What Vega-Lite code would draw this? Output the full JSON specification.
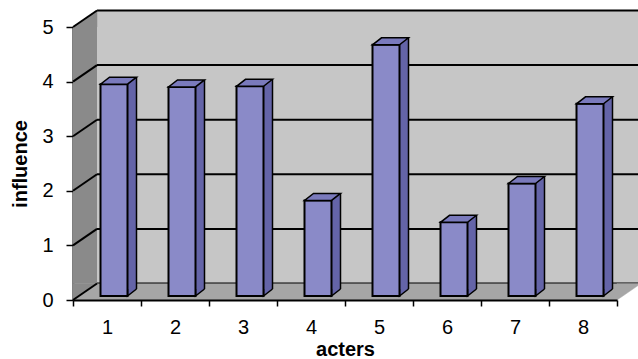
{
  "$schema": "https://vega.github.io/schema/vega-lite/v6.json",
  "width": 544,
  "height": 273,
  "autosize": {"type": "none"},
  "padding": {"left": 73, "top": 27, "right": 21, "bottom": 59},
  "background": "white",
  "config": {
    "view": {"stroke": null},
    "font": "Liberation Sans",
    "axis": {
      "labelFont": "Liberation Sans",
      "titleFont": "Liberation Sans",
      "labelColor": "#000000",
      "titleColor": "#000000",
      "domainColor": "#000000",
      "tickColor": "#000000",
      "labelFontSize": 20,
      "titleFontSize": 20,
      "titleFontWeight": "bold",
      "domainWidth": 2,
      "tickWidth": 1.5,
      "grid": false
    },
    "axisX": {"labelAngle": 0, "tickBand": "extent", "tickSize": 6, "labelPadding": 11, "titlePadding": 2},
    "axisY": {"tickSize": 7, "labelPadding": 13, "titlePadding": 11}
  },
  "datasets": {
    "scores": [
      {"acter": 1, "influence": 3.88},
      {"acter": 2, "influence": 3.83},
      {"acter": 3, "influence": 3.84},
      {"acter": 4, "influence": 1.75},
      {"acter": 5, "influence": 4.6},
      {"acter": 6, "influence": 1.35},
      {"acter": 7, "influence": 2.06},
      {"acter": 8, "influence": 3.52}
    ],
    "levels": [
      {"level": 0}, {"level": 1}, {"level": 2}, {"level": 3}, {"level": 4}, {"level": 5}
    ],
    "frame": [{"part": "wall"}]
  },
  "layer": [
    {
      "data": {"name": "frame"},
      "mark": {"type": "rect", "fill": "#c6c6c6", "xOffset": 24, "x2Offset": 24, "yOffset": -16.5, "y2Offset": -16.5},
      "encoding": {
        "x": {"datum": 1, "type": "ordinal", "bandPosition": 0, "title": "acters", "scale": {"type": "band", "paddingInner": 0, "paddingOuter": 0}},
        "x2": {"datum": 8, "bandPosition": 1},
        "y": {"datum": 0, "type": "quantitative", "title": "influence", "scale": {"domain": [0, 5], "nice": false}, "axis": {"values": [0, 1, 2, 3, 4, 5]}},
        "y2": {"datum": 5}
      }
    },
    {
      "data": {"name": "levels"},
      "mark": {"type": "rule", "stroke": "#000000", "strokeWidth": 2, "xOffset": 24, "x2Offset": 24, "yOffset": -16.5},
      "encoding": {
        "x": {"datum": 1, "type": "ordinal", "bandPosition": 0, "title": "acters", "scale": {"type": "band", "paddingInner": 0, "paddingOuter": 0}},
        "x2": {"datum": 8, "bandPosition": 1},
        "y": {"field": "level", "type": "quantitative", "title": "influence", "scale": {"domain": [0, 5], "nice": false}}
      }
    },
    {
      "data": {"name": "frame"},
      "mark": {"type": "rect", "fill": "#a6a6a6", "y2Offset": -16.5},
      "encoding": {
        "x": {"datum": 1, "type": "ordinal", "bandPosition": 0, "title": "acters", "scale": {"type": "band", "paddingInner": 0, "paddingOuter": 0}},
        "x2": {"datum": 8, "bandPosition": 1},
        "y": {"datum": 0, "type": "quantitative", "title": "influence", "scale": {"domain": [0, 5], "nice": false}},
        "y2": {"datum": 0}
      }
    },
    {
      "data": {"name": "frame"},
      "mark": {"type": "point", "filled": true, "opacity": 1, "size": 4, "shape": "M0,0 L0,-16.5 L24,-16.5 Z", "fill": "#a6a6a6", "stroke": "#a6a6a6", "strokeWidth": 0.5},
      "encoding": {
        "x": {"datum": 8, "type": "ordinal", "bandPosition": 1, "title": "acters", "scale": {"type": "band", "paddingInner": 0, "paddingOuter": 0}},
        "y": {"datum": 0, "type": "quantitative", "title": "influence", "scale": {"domain": [0, 5], "nice": false}}
      }
    },
    {
      "data": {"name": "frame"},
      "mark": {"type": "rect", "fill": "#8a8a8a", "x2Offset": 24, "y2Offset": -16.5},
      "encoding": {
        "x": {"datum": 1, "type": "ordinal", "bandPosition": 0, "title": "acters", "scale": {"type": "band", "paddingInner": 0, "paddingOuter": 0}},
        "x2": {"datum": 1, "bandPosition": 0},
        "y": {"datum": 5, "type": "quantitative", "title": "influence", "scale": {"domain": [0, 5], "nice": false}},
        "y2": {"datum": 0}
      }
    },
    {
      "data": {"name": "frame"},
      "mark": {"type": "point", "filled": true, "opacity": 1, "size": 4, "shape": "M0,0 L24,-16.5 L24,0 Z", "fill": "#8a8a8a", "stroke": "#8a8a8a", "strokeWidth": 0.5},
      "encoding": {
        "x": {"datum": 1, "type": "ordinal", "bandPosition": 0, "title": "acters", "scale": {"type": "band", "paddingInner": 0, "paddingOuter": 0}},
        "y": {"datum": 5, "type": "quantitative", "title": "influence", "scale": {"domain": [0, 5], "nice": false}}
      }
    },
    {
      "data": {"name": "frame"},
      "mark": {"type": "point", "filled": true, "opacity": 1, "size": 4, "shape": "M0,0 L0,-16.5 L24,-16.5 Z", "fill": "#8a8a8a", "stroke": "#8a8a8a", "strokeWidth": 0.5},
      "encoding": {
        "x": {"datum": 1, "type": "ordinal", "bandPosition": 0, "title": "acters", "scale": {"type": "band", "paddingInner": 0, "paddingOuter": 0}},
        "y": {"datum": 0, "type": "quantitative", "title": "influence", "scale": {"domain": [0, 5], "nice": false}}
      }
    },
    {
      "data": {"name": "levels"},
      "mark": {"type": "rule", "stroke": "#000000", "strokeWidth": 2, "x2Offset": 24, "y2Offset": -16.5},
      "encoding": {
        "x": {"datum": 1, "type": "ordinal", "bandPosition": 0, "title": "acters", "scale": {"type": "band", "paddingInner": 0, "paddingOuter": 0}},
        "x2": {"datum": 1, "bandPosition": 0},
        "y": {"field": "level", "type": "quantitative", "title": "influence", "scale": {"domain": [0, 5], "nice": false}},
        "y2": {"field": "level"}
      }
    },
    {
      "data": {"name": "scores"},
      "mark": {"type": "bar", "width": 27, "fill": "#6464a8", "xOffset": 16, "yOffset": -11, "y2Offset": -11},
      "encoding": {
        "x": {"field": "acter", "type": "ordinal", "title": "acters", "scale": {"type": "band", "paddingInner": 0, "paddingOuter": 0}},
        "y": {"field": "influence", "type": "quantitative", "title": "influence", "scale": {"domain": [0, 5], "nice": false}}
      }
    },
    {
      "data": {"name": "scores"},
      "mark": {"type": "point", "filled": true, "opacity": 1, "size": 4, "shape": "M0,-7 L0,0 L9,-7", "fill": "#6464a8", "stroke": "#000000", "strokeWidth": 1.5, "xOffset": 20.5, "yOffset": -4},
      "encoding": {
        "x": {"field": "acter", "type": "ordinal", "title": "acters", "scale": {"type": "band", "paddingInner": 0, "paddingOuter": 0}},
        "y": {"datum": 0, "type": "quantitative", "title": "influence", "scale": {"domain": [0, 5], "nice": false}}
      }
    },
    {
      "data": {"name": "scores"},
      "mark": {"type": "rule", "stroke": "#000000", "strokeWidth": 1.5, "xOffset": 29.5, "yOffset": -11, "y2Offset": -11},
      "encoding": {
        "x": {"field": "acter", "type": "ordinal", "title": "acters", "scale": {"type": "band", "paddingInner": 0, "paddingOuter": 0}},
        "y": {"field": "influence", "type": "quantitative", "title": "influence", "scale": {"domain": [0, 5], "nice": false}},
        "y2": {"datum": 0}
      }
    },
    {
      "data": {"name": "scores"},
      "mark": {"type": "bar", "width": 27, "fill": "#8a8ac8", "stroke": "#000000", "strokeWidth": 2, "xOffset": 7, "yOffset": -4, "y2Offset": -4},
      "encoding": {
        "x": {"field": "acter", "type": "ordinal", "title": "acters", "scale": {"type": "band", "paddingInner": 0, "paddingOuter": 0}},
        "y": {"field": "influence", "type": "quantitative", "title": "influence", "scale": {"domain": [0, 5], "nice": false}}
      }
    },
    {
      "data": {"name": "scores"},
      "mark": {"type": "point", "filled": true, "opacity": 1, "size": 4, "shape": "M0,0 L27,0 L36,-7 L9,-7 Z", "fill": "#7a7abc", "stroke": "#000000", "strokeWidth": 1.5, "xOffset": -6.5, "yOffset": -4},
      "encoding": {
        "x": {"field": "acter", "type": "ordinal", "title": "acters", "scale": {"type": "band", "paddingInner": 0, "paddingOuter": 0}},
        "y": {"field": "influence", "type": "quantitative", "title": "influence", "scale": {"domain": [0, 5], "nice": false}}
      }
    }
  ]
}
